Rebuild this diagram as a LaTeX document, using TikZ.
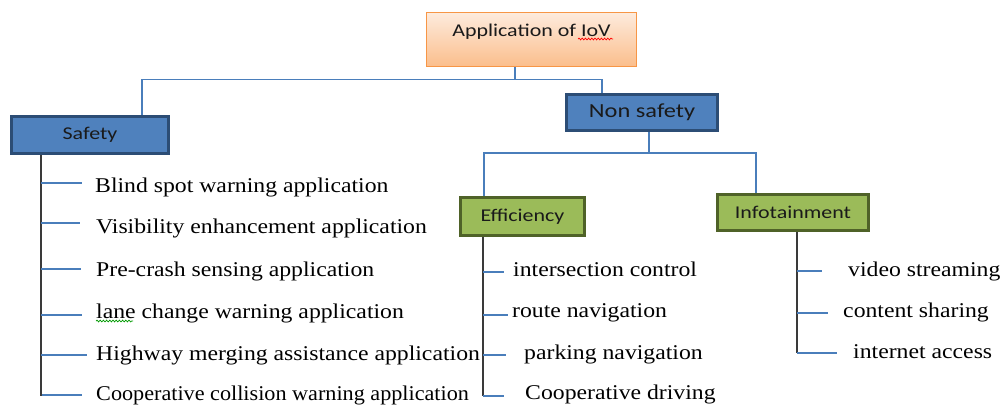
\documentclass[tikz,border=0pt]{standalone}
\usepackage{fontspec}
\setmainfont{Liberation Serif}[FakeStretch=1.13]
\newfontfamily\boxfont{Carlito}[FakeStretch=1.22]
\usetikzlibrary{decorations.pathmorphing}

\definecolor{linkblue}{HTML}{4A7EBB}
\definecolor{bluefill}{HTML}{4F81BD}
\definecolor{blueedge}{HTML}{2C4D75}
\definecolor{greenfill}{HTML}{9BBB59}
\definecolor{greenedge}{HTML}{4F6228}
\definecolor{peachtop}{HTML}{FDEBDD}
\definecolor{peachbottom}{HTML}{FBBE8C}
\definecolor{orangeedge}{HTML}{F79646}
\definecolor{stemgray}{HTML}{3A3A3A}
\definecolor{boxtext}{HTML}{1A1A1A}

\begin{document}
\begin{tikzpicture}[x=1pt,y=-1pt,
  link/.style={draw=linkblue, line width=1.3pt},
  stemline/.style={draw=stemgray, line width=1.6pt},
  branch/.style={draw=linkblue, line width=1.1pt},
  item/.style={anchor=base west, inner sep=0pt, font=\fontsize{21}{21}\selectfont, text=black},
  boxbase/.style={inner sep=0pt, text=boxtext, font=\boxfont\fontsize{18}{18}\selectfont},
  bluebox/.style={boxbase, draw=blueedge, fill=bluefill, line width=2.8pt},
  greenbox/.style={boxbase, draw=greenedge, fill=greenfill, line width=2.8pt},
  rootbox/.style={boxbase, draw=orangeedge, line width=1.4pt,
    top color=peachtop, bottom color=peachbottom},
  squiggle/.style={line width=0.7pt, decorate,
    decoration={snake, amplitude=0.9pt, segment length=3.2pt}}
]
\useasboundingbox (0,0) rectangle (1000,405);

% boxes
\node[rootbox, minimum width=210pt, text height=24pt, text depth=30pt]
  (root) at (531.5,39.5) {Application of IoV};
\node[bluebox, minimum width=157pt, minimum height=37pt] (safety) at (90,135) {Safety};
\node[bluebox, minimum width=151pt, minimum height=36pt,
  font=\boxfont\fontsize{20}{20}\selectfont] (nonsafety) at (642,112.5) {Non safety\hspace{8pt}};
\node[greenbox, minimum width=124pt, minimum height=38pt] (eff) at (522.5,216.5) {Efficiency};
\node[greenbox, minimum width=151pt, minimum height=36pt] (info) at (793,212.5) {Infotainment};

% spell-check marks
\draw[squiggle, red] (578,39) -- (613,39);
\draw[squiggle, green!60!black] (96,321) -- (133,321);

% tree connectors
\draw[link] ([xshift=-16.5pt]root.south) -- ++(0,12) coordinate (rj);
\draw[link] (rj) -| ([xshift=52pt]safety.north);
\draw[link] (rj) -| ([xshift=-40pt]nonsafety.north);
\draw[link] ([xshift=7pt]nonsafety.south) -- ++(0,21) coordinate (nj);
\draw[link] (nj) -| ([xshift=-38.5pt]eff.north);
\draw[link] (nj) -| ([xshift=-37pt]info.north);

% Safety list
\draw[stemline] ([xshift=-49pt]safety.south) |- (82,395);
\foreach \y/\e in {183/82, 223/80, 269/81, 315/82, 355/87}
  \draw[branch] (41,\y) -- (\e,\y);
\node[item] (s1) at (95,192) {Blind spot warning application};
\node[item] (s2) at (96,233) {Visibility enhancement application};
\node[item] (s3) at (96,276) {Pre-crash sensing application};
\node[item] (s4) at (96,318) {lane change warning application};
\node[item] (s5) at (96,360) {Highway merging assistance application};
\node[item] (s6) at (96,400) {\scalebox{0.935}[1]{Cooperative collision warning application}};
\draw[branch] (42,395) -- (82,395);

% Efficiency list
\draw[stemline] ([xshift=-39.5pt]eff.south) -- (483,396);
\foreach \y/\e in {272/504, 315/508, 355/506, 396/504}
  \draw[branch] (483,\y) -- (\e,\y);
\node[item] (e1) at (513,276) {intersection control};
\node[item] (e2) at (512,317) {route navigation};
\node[item] (e3) at (524,359) {parking navigation};
\node[item] (e4) at (525,399) {Cooperative driving};

% Infotainment list
\draw[stemline] ([xshift=4pt]info.south) -- (797,353);
\foreach \y/\e in {271/822, 313/828, 353/837}
  \draw[branch] (797,\y) -- (\e,\y);
\node[item] (i1) at (848,276) {video streaming};
\node[item] (i2) at (843,317) {content sharing};
\node[item] (i3) at (853,358) {internet access};
\end{tikzpicture}
\end{document}
